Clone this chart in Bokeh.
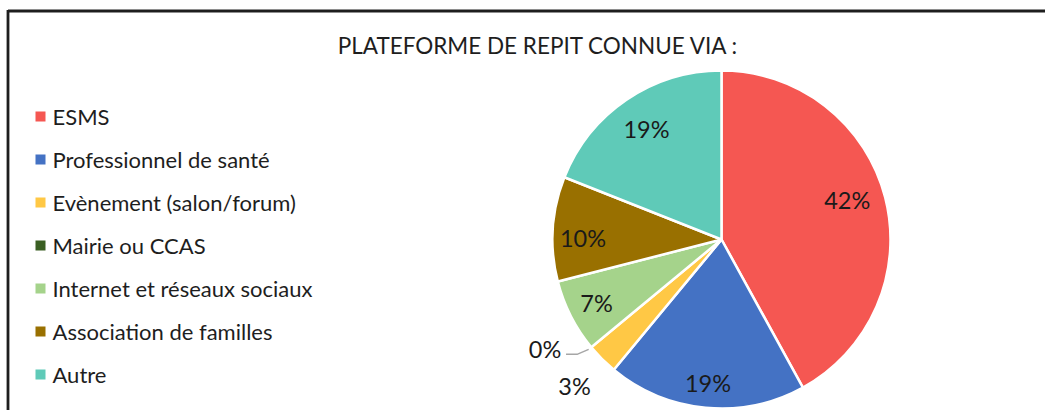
import numpy as np
from bokeh.plotting import figure
from bokeh.models import Range1d
from bokeh.core.properties import value
from bokeh.embed import file_html
from bokeh.resources import INLINE

# ---- data ----
title = "PLATEFORME DE REPIT CONNUE VIA :"
categories = ["ESMS", "Professionnel de santé", "Evènement (salon/forum)",
              "Mairie ou CCAS", "Internet et réseaux sociaux",
              "Association de familles", "Autre"]
percent = [42, 19, 3, 0, 7, 10, 19]
labels = ["42%", "19%", "3%", "0%", "7%", "10%", "19%"]
colors = ["#F55752", "#4472C4", "#FFC845", "#3A5F23", "#A5D38B", "#997000", "#5FCAB8"]

# ---- layout ----
W, H = 1045, 410
OX, OY = 1, 1   # observed page position of the figure's top-left corner
FONT = "Lato"
label_r = [0.78, 0.85, 1.23, 1.23, 0.83, 0.82, 0.79]
label_dang = [-3, 0, 0, 7.7, 0, -3, 0]


def Y(py):
    return H + OY - py


p = figure(width=W, height=H, x_range=Range1d(OX, OX + W), y_range=Range1d(0, H),
           output_backend="svg", toolbar_location=None, min_border=0,
           background_fill_color="white", border_fill_color="white")
p.axis.visible = False
p.grid.visible = False
p.outline_line_color = None

# border of the chart area
p.line([8.5, OX + W + 5], [Y(11.5), Y(11.5)], line_color="#1e1e1e", line_width=2.8)
p.line([8.5, 8.5], [Y(10.5), Y(430)], line_color="#1e1e1e", line_width=2.8)

# title
p.text(x=[539], y=[Y(46)], text=[title], text_font=value(FONT), text_font_size="22.5px",
       text_color="#1e1e1e", text_align="center", text_baseline="middle")

# pie
cx, cy, R = 722, Y(240), 169
frac = np.array(percent, dtype=float) / sum(percent)
cum_after = np.cumsum(frac)
cum_before = cum_after - frac
start = np.pi / 2 - 2 * np.pi * cum_before
end = np.pi / 2 - 2 * np.pi * cum_after
nz = frac > 0
p.wedge(x=cx, y=cy, radius=R, start_angle=start[nz], end_angle=end[nz], direction="clock",
        fill_color=[c for c, k in zip(colors, nz) if k], line_color="white", line_width=2.5)

# data labels
mid = 2 * np.pi * (cum_before + frac / 2)
theta = mid + np.radians(label_dang)
lx = cx + R * np.array(label_r) * np.sin(theta)
ly = cy + R * np.array(label_r) * np.cos(theta)
p.text(x=lx, y=ly, text=labels, text_font=value(FONT), text_font_size="23.5px",
       text_color="#1a1a1a", text_align="center", text_baseline="middle")

# leader line for the 0% slice
i0 = percent.index(0)
ex = cx + R * 1.02 * np.sin(mid[i0])
ey = cy + R * 1.02 * np.cos(mid[i0])
x0 = lx[i0] + 21
y0 = ly[i0] - 5
p.line([x0, x0 + 11, ex], [y0, y0, ey], line_color="#A6A6A6", line_width=1.5)

# legend
rows = [117 + 43 * i for i in range(len(categories))]
p.rect(x=[41] * len(categories), y=[Y(r) for r in rows], width=10, height=10,
       fill_color=colors, line_color=None)
p.text(x=[53] * len(categories), y=[Y(r) for r in rows], text=categories,
       text_font=value(FONT), text_font_size="22px", text_color="#1e1e1e",
       text_align="left", text_baseline="middle")

open("out.html", "w").write(file_html(p, INLINE))
